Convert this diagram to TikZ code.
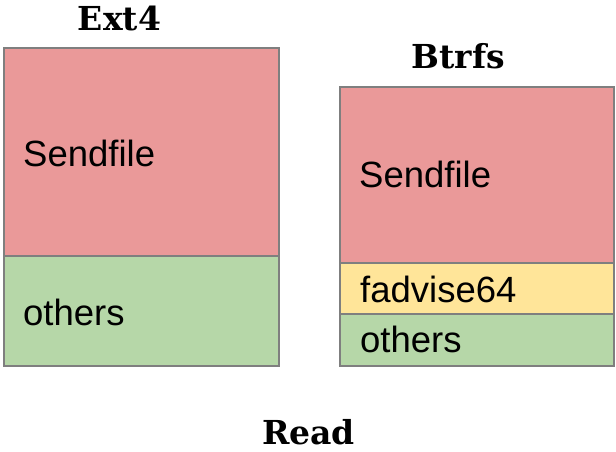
\documentclass[tikz,border=0pt]{standalone}
\usepackage{fontspec}
\setmainfont{Liberation Sans}
\newfontfamily\titlefont{DejaVu Serif}
\definecolor{sendred}{HTML}{EA9999}
\definecolor{advyellow}{HTML}{FFE599}
\definecolor{othgreen}{HTML}{B6D7A8}
\definecolor{edgegray}{HTML}{7F7F7F}
\begin{document}
\begin{tikzpicture}[x=1pt,y=-1pt,
  seg/.style={draw=edgegray,line width=1.4pt},
  label/.style={anchor=base west,inner sep=0pt,font=\fontsize{36.5}{40}\selectfont},
  heading/.style={anchor=base,inner sep=0pt,font=\titlefont\bfseries\fontsize{33}{38}\selectfont}]
\useasboundingbox (0,0) rectangle (616,451);
% Ext4 column
\filldraw[seg,fill=sendred] (4,48) rectangle (279,256);
\filldraw[seg,fill=othgreen] (4,256) rectangle (279,366);
\node[heading] (ext) at (119.5,30) {Ext4};
\node[label] (extsend) at (23,166) {Sendfile};
\node[label] (extoth) at (23,325) {others};
% Btrfs column
\filldraw[seg,fill=sendred] (340,87) rectangle (614,263);
\filldraw[seg,fill=advyellow] (340,263) rectangle (614,314);
\filldraw[seg,fill=othgreen] (340,314) rectangle (614,366);
\node[heading] (btr) at (458.5,68) {Btrfs};
\node[label] (btrsend) at (359,187) {Sendfile};
\node[label] (btradv) at (360,302) {fadvise64};
\node[label] (btroth) at (360,352) {others};
% caption
\node[heading] (cap) at (308.5,444) {Read};
\end{tikzpicture}
\end{document}
